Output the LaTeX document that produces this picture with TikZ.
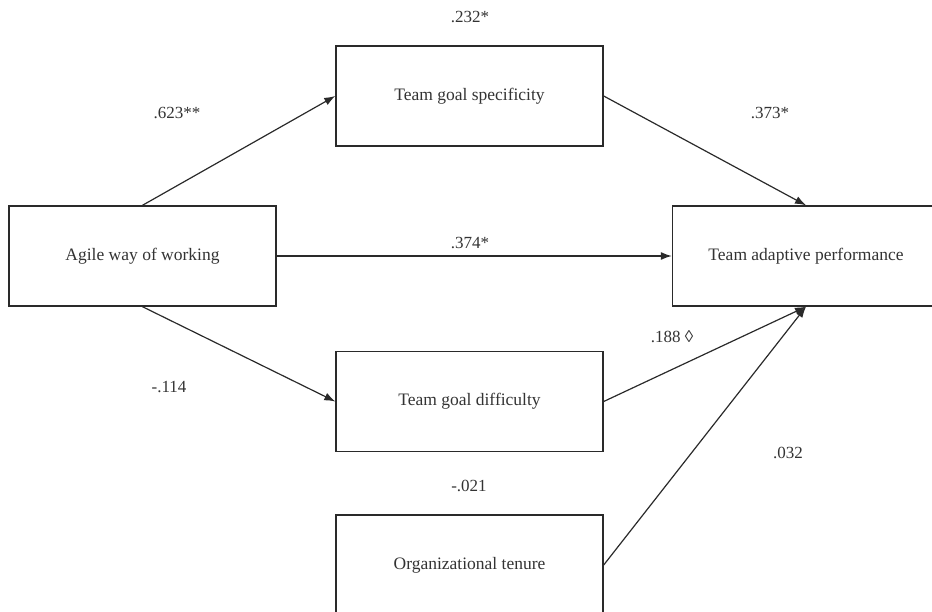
\documentclass[tikz,border=0pt]{standalone}
\usepackage{fontspec}
\setmainfont{Liberation Serif}
\usetikzlibrary{arrows.meta}
\definecolor{ink}{HTML}{2A2A2A}
\definecolor{txt}{HTML}{333333}
\begin{document}
\begin{tikzpicture}[x=1pt,y=-1pt,
  varbox/.style={draw=ink,line width=1.4pt,minimum width=267pt,minimum height=100pt,
    inner sep=0pt,text=txt,font=\fontsize{17.5}{20}\selectfont},
  coef/.style={text=txt,font=\fontsize{17}{20}\selectfont,inner sep=0pt},
  path/.style={draw=ink,line width=1.2pt,-{Latex[length=11pt,width=8pt]}}]
\useasboundingbox (0,0) rectangle (932,611);
\clip (0,0) rectangle (932,611);
% variables
\node[varbox] (agile) at (142.5,256) {Agile way of working};
\node[varbox] (spec) at (469.5,96) {Team goal specificity};
\node[varbox] (diff) at (469.5,401.5) {Team goal difficulty};
\node[varbox] (tenure) at (469.5,565) {Organizational tenure};
\node[varbox] (perf) at (806,256) {Team adaptive performance};
% paths
\draw[path] (agile.north) -- (spec.west);
\draw[path] (agile.south) -- (diff.west);
\draw[path] (agile.east) -- (perf.west);
\draw[path] (spec.east) -- (perf.north);
\draw[path] (diff.east) -- (perf.south);
\draw[path] (tenure.east) -- (perf.south);
% coefficients
\node[coef] (c1) at (470,17) {.232*};
\node[coef] (c2) at (177,113) {.623**};
\node[coef] (c3) at (770,113) {.373*};
\node[coef] (c4) at (470,243) {.374*};
\node[coef] (c5) at (672,337) {.188 ◊};
\node[coef] (c6) at (169,387) {-.114};
\node[coef] (c7) at (788,453) {.032};
\node[coef] (c8) at (469,486) {-.021};
\end{tikzpicture}
\end{document}
